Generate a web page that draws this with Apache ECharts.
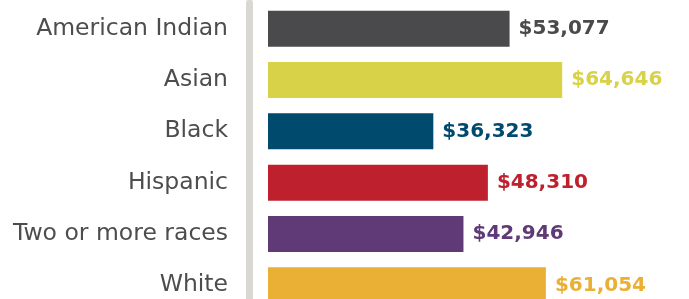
<!DOCTYPE html>
<html>
<head>
<meta charset="utf-8">
<script src="https://cdn.jsdelivr.net/npm/echarts@6/dist/echarts.min.js"></script>
<style>
  html, body { margin: 0; padding: 0; background: #fff; }
  #chart { width: 689px; height: 299px; }
</style>
</head>
<body>
<div id="chart"></div>
<script>
  var categories = ['American Indian', 'Asian', 'Black', 'Hispanic', 'Two or more races', 'White'];
  var incomes = [53077, 64646, 36323, 48310, 42946, 61054];
  var colors = ['#4a4a4c', '#d8d249', '#004a6e', '#be202d', '#5f3a77', '#e9b035'];

  var data = [];
  for (var i = 0; i < incomes.length; i++) {
    data.push({ value: incomes[i], itemStyle: { color: colors[i] }, label: { color: colors[i] } });
  }

  var chart = echarts.init(document.getElementById('chart'));
  chart.setOption({
    animation: false,
    grid: { left: 268, right: 0, top: 3, height: 308, containLabel: false, outerBoundsMode: 'none' },
    xAxis: {
      type: 'value',
      min: 0,
      max: 92500,
      show: false
    },
    yAxis: {
      type: 'category',
      inverse: true,
      data: categories,
      offset: 19,
      axisLine: { show: true, onZero: false, lineStyle: { color: '#d9d8d3', width: 7 } },
      axisTick: { show: false },
      axisLabel: {
        margin: 21,
        color: '#4d4d4d',
        fontSize: 23.5,
        fontFamily: 'DejaVu Sans'
      }
    },
    series: [{
      type: 'bar',
      barWidth: 36,
      data: data,
      label: {
        show: true,
        position: 'right',
        distance: 9,
        fontSize: 20,
        fontWeight: 'bold',
        fontFamily: 'DejaVu Sans',
        formatter: function (p) { return '$' + p.value.toLocaleString('en-US'); }
      }
    }]
  });
</script>
</body>
</html>
